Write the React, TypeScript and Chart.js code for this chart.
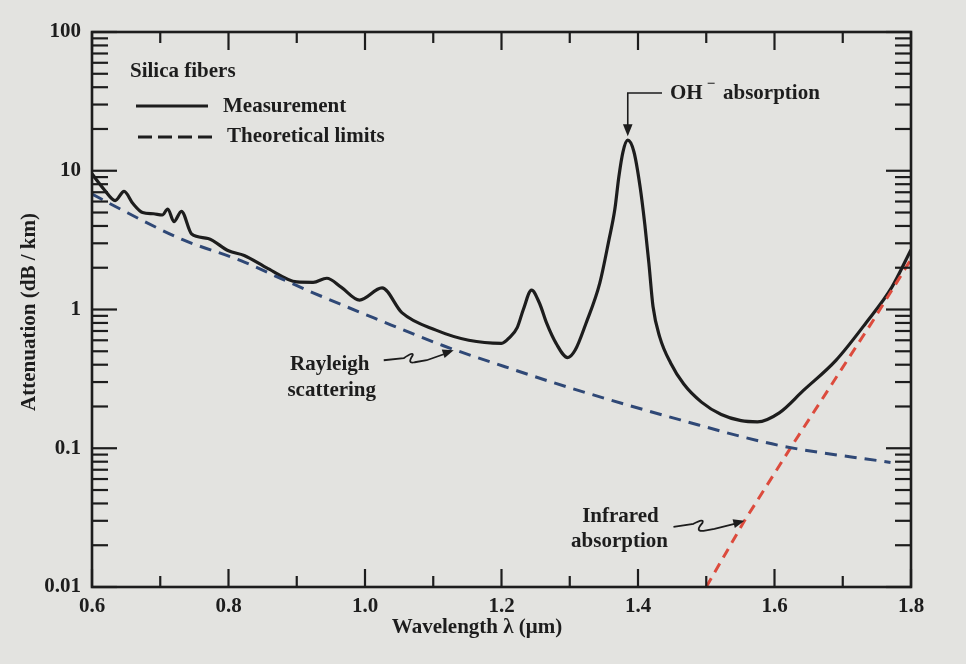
import React, { useEffect, useRef } from "react";
import { Chart, registerables } from "chart.js";

Chart.register(...registerables);

// ---- data ----
const measWavelength = [
  0.6, 0.618, 0.634, 0.647, 0.66, 0.674, 0.69, 0.703, 0.711, 0.72, 0.731, 0.746, 0.77, 0.8, 0.823,
  0.858, 0.9, 0.924, 0.944, 0.965, 0.992, 1.025, 1.054, 1.104, 1.152, 1.2, 1.212, 1.223, 1.232,
  1.244, 1.256, 1.266, 1.28, 1.297, 1.308, 1.324, 1.344, 1.357, 1.366, 1.372, 1.378, 1.385, 1.394,
  1.403, 1.41, 1.416, 1.422, 1.432, 1.448, 1.467, 1.493, 1.522, 1.551, 1.575, 1.607, 1.642, 1.69,
  1.734, 1.772, 1.8,
];
const measAttenuation = [
  9.5, 7.3, 6.1, 7.1, 5.8, 5.0, 4.9, 4.8, 5.3, 4.3, 5.1, 3.5, 3.25, 2.65, 2.45,
  1.97, 1.58, 1.57, 1.68, 1.45, 1.17, 1.43, 0.95, 0.71, 0.6, 0.57, 0.63, 0.74, 1.0,
  1.38, 1.1, 0.8, 0.57, 0.45, 0.51, 0.8, 1.55, 3.1, 5.25, 9.1, 13.7, 16.6, 13.7,
  7.7, 4.1, 2.14, 1.05, 0.63, 0.41, 0.29, 0.215, 0.175, 0.158, 0.155, 0.18, 0.26, 0.43,
  0.8, 1.45, 2.7,
];
const rayleighWavelength = [0.6, 0.635, 0.732, 0.819, 0.877, 0.924, 1.013, 1.114, 1.203, 1.303, 1.462, 1.606, 1.77];
const rayleighAttenuation = [6.8, 5.5, 3.2, 2.24, 1.67, 1.32, 0.87, 0.55, 0.39, 0.27, 0.16, 0.105, 0.079];
const infraredWavelength = [1.5, 1.556, 1.627, 1.745, 1.8];
const infraredAttenuation = [0.01, 0.03, 0.107, 0.84, 2.3];

const rayleighPointerWavelength = 1.13;
const infraredPointerIndex = 1;

const xTickValues = [0.6, 0.8, 1.0, 1.2, 1.4, 1.6, 1.8];
const xMinorTickValues = [0.7, 0.9, 1.1, 1.3, 1.5, 1.7];
const yTickValues = [0.01, 0.1, 1, 10, 100];
const yTickLabels = ["0.01", "0.1", "1", "10", "100"];
const yMinorMultipliers = [2, 3, 4, 5, 6, 7, 8, 9];

const FONT = '"Liberation Serif", "Times New Roman", serif';
const INK = "#1d1d1d";
const BG = "#e3e3e0";
const BLUE = "#2f4876";
const RED = "#dc4b3d";

function logInterp(ws: number[], vs: number[], w: number) {
  for (let i = 0; i < ws.length - 1; i++) {
    if (w >= ws[i] && w <= ws[i + 1]) {
      const t = (w - ws[i]) / (ws[i + 1] - ws[i]);
      return Math.pow(10, Math.log10(vs[i]) * (1 - t) + Math.log10(vs[i + 1]) * t);
    }
  }
  return vs[vs.length - 1];
}

function arrowHead(ctx: CanvasRenderingContext2D, fx: number, fy: number, tx: number, ty: number, size: number) {
  const ang = Math.atan2(ty - fy, tx - fx);
  ctx.beginPath();
  ctx.moveTo(tx, ty);
  ctx.lineTo(tx - size * Math.cos(ang - 0.38), ty - size * Math.sin(ang - 0.38));
  ctx.lineTo(tx - size * Math.cos(ang + 0.38), ty - size * Math.sin(ang + 0.38));
  ctx.closePath();
  ctx.fill();
}

const decorPlugin = {
  id: "decor",
  afterDatasetsDraw(chart: any) {
    const { ctx, chartArea: a, scales } = chart;
    const xs = scales.x;
    const ys = scales.y;
    ctx.save();
    ctx.strokeStyle = INK;
    ctx.fillStyle = INK;
    ctx.setLineDash([]);

    // frame
    ctx.lineWidth = 2.6;
    ctx.strokeRect(a.left, a.top, a.right - a.left, a.bottom - a.top);

    // inward tick marks
    ctx.lineWidth = 2.2;
    const seg = (x1: number, y1: number, x2: number, y2: number) => {
      ctx.beginPath();
      ctx.moveTo(x1, y1);
      ctx.lineTo(x2, y2);
      ctx.stroke();
    };
    const yTick = (v: number, len: number) => {
      const py = ys.getPixelForValue(v);
      seg(a.left, py, a.left + len, py);
      seg(a.right, py, a.right - len, py);
    };
    yTickValues.forEach((dec, i) => {
      yTick(dec, 25);
      if (i < yTickValues.length - 1) yMinorMultipliers.forEach((m) => yTick(dec * m, 16));
    });
    const xTick = (v: number, len: number) => {
      const px = xs.getPixelForValue(v);
      seg(px, a.bottom, px, a.bottom - len);
      seg(px, a.top, px, a.top + len);
    };
    xTickValues.forEach((v) => xTick(v, 18));
    xMinorTickValues.forEach((v) => xTick(v, 11));

    // axis titles
    ctx.font = `bold 21px ${FONT}`;
    ctx.textAlign = "center";
    ctx.textBaseline = "middle";
    ctx.fillText("Wavelength \u03bb (\u03bcm)", 477, 628);
    ctx.save();
    ctx.translate(30, 312);
    ctx.rotate(-Math.PI / 2);
    ctx.fillText("Attenuation (dB / km)", 0, 0);
    ctx.restore();

    // key block
    ctx.textAlign = "left";
    ctx.fillText("Silica fibers", 130, 72);
    ctx.fillText("Measurement", 223, 107);
    ctx.fillText("Theoretical limits", 227, 137);
    ctx.lineWidth = 3;
    seg(136, 106, 208, 106);
    ctx.setLineDash([14, 6]);
    seg(138, 137, 214, 137);
    ctx.setLineDash([]);

    // OH- absorption label with arrow to the peak
    let peakIdx = 0;
    measAttenuation.forEach((v, i) => {
      if (v > measAttenuation[peakIdx]) peakIdx = i;
    });
    const peakX = xs.getPixelForValue(measWavelength[peakIdx]);
    const peakY = ys.getPixelForValue(measAttenuation[peakIdx]);
    ctx.lineWidth = 1.6;
    ctx.beginPath();
    ctx.moveTo(662, 93);
    ctx.lineTo(peakX, 93);
    ctx.lineTo(peakX, peakY - 14);
    ctx.stroke();
    arrowHead(ctx, peakX, 93, peakX, peakY - 4, 13);
    ctx.font = `bold 21px ${FONT}`;
    ctx.fillText("OH", 670, 94);
    const ohW = ctx.measureText("OH").width;
    ctx.font = `bold 15px ${FONT}`;
    ctx.fillText("\u2212", 670 + ohW + 4, 84);
    ctx.font = `bold 21px ${FONT}`;
    ctx.fillText("absorption", 723, 94);

    // Rayleigh scattering label, pointer ends on the Rayleigh curve
    const rx = xs.getPixelForValue(rayleighPointerWavelength);
    const ry = ys.getPixelForValue(logInterp(rayleighWavelength, rayleighAttenuation, rayleighPointerWavelength)) + 1;
    ctx.textAlign = "center";
    ctx.fillText("Rayleigh", rx - 124, ry + 14);
    ctx.fillText("scattering", rx - 122, ry + 40);
    ctx.lineWidth = 1.8;
    ctx.beginPath();
    ctx.moveTo(rx - 70, ry + 10);
    ctx.lineTo(rx - 50, ry + 8);
    ctx.quadraticCurveTo(rx - 40, ry + 1, rx - 41, ry + 5);
    ctx.quadraticCurveTo(rx - 47, ry + 14, rx - 39, ry + 12);
    ctx.lineTo(rx - 27, ry + 10);
    ctx.lineTo(rx - 10, ry + 4);
    ctx.stroke();
    arrowHead(ctx, rx - 18, ry + 6, rx, ry, 12);

    // Infrared absorption label, pointer ends on the infrared line
    const ix = xs.getPixelForValue(infraredWavelength[infraredPointerIndex]);
    const iy = ys.getPixelForValue(infraredAttenuation[infraredPointerIndex]);
    ctx.fillText("Infrared", ix - 124, iy - 4);
    ctx.fillText("absorption", ix - 125, iy + 21);
    ctx.beginPath();
    ctx.moveTo(ix - 71, iy + 6);
    ctx.lineTo(ix - 51, iy + 3);
    ctx.quadraticCurveTo(ix - 40, iy - 3, ix - 42, iy + 2);
    ctx.quadraticCurveTo(ix - 50, iy + 11, ix - 41, iy + 10);
    ctx.lineTo(ix - 30, iy + 8);
    ctx.lineTo(ix - 10, iy + 3);
    ctx.stroke();
    arrowHead(ctx, ix - 19, iy + 5, ix, iy, 12);

    ctx.restore();
  },
};

export default function App() {
  const canvasRef = useRef<HTMLCanvasElement | null>(null);

  useEffect(() => {
    const canvas = canvasRef.current;
    if (!canvas) return;
    const toPts = (xsArr: number[], ysArr: number[]) => xsArr.map((x, i) => ({ x, y: ysArr[i] }));
    const chart = new Chart(canvas, {
      type: "line",
      data: {
        datasets: [
          {
            label: "Rayleigh scattering",
            data: toPts(rayleighWavelength, rayleighAttenuation),
            borderColor: BLUE,
            borderWidth: 3,
            borderDash: [12, 8],
            pointRadius: 0,
            cubicInterpolationMode: "monotone",
            fill: false,
          },
          {
            label: "Infrared absorption",
            data: toPts(infraredWavelength, infraredAttenuation),
            borderColor: RED,
            borderWidth: 3,
            borderDash: [10, 7],
            pointRadius: 0,
            tension: 0,
            fill: false,
          },
          {
            label: "Measurement",
            data: toPts(measWavelength, measAttenuation),
            borderColor: INK,
            borderWidth: 3.2,
            pointRadius: 0,
            cubicInterpolationMode: "monotone",
            fill: false,
          },
        ],
      },
      options: {
        responsive: false,
        animation: false,
        devicePixelRatio: 1,
        layout: { padding: { top: 32, right: 55, left: 0, bottom: 0 } },
        plugins: { legend: { display: false }, tooltip: { enabled: false } },
        scales: {
          x: {
            type: "linear",
            min: 0.6,
            max: 1.8,
            afterBuildTicks: (s: any) => {
              s.ticks = xTickValues.map((v) => ({ value: v }));
            },
            afterFit: (s: any) => {
              s.height = 77;
            },
            grid: { display: false, drawTicks: false },
            border: { display: false },
            ticks: {
              autoSkip: false,
              maxRotation: 0,
              padding: 7,
              color: INK,
              font: { family: FONT, size: 21, weight: "bold" },
              callback: (v: any) => Number(v).toFixed(1),
            },
          },
          y: {
            type: "logarithmic",
            min: 0.01,
            max: 100,
            afterBuildTicks: (s: any) => {
              s.ticks = yTickValues.map((v) => ({ value: v }));
            },
            afterFit: (s: any) => {
              s.width = 92;
            },
            grid: { display: false, drawTicks: false },
            border: { display: false },
            ticks: {
              autoSkip: false,
              padding: 11,
              color: INK,
              font: { family: FONT, size: 21, weight: "bold" },
              callback: (_v: any, i: number) => yTickLabels[i],
            },
          },
        },
      },
      plugins: [decorPlugin],
    } as any);
    return () => chart.destroy();
  }, []);

  return (
    <div style={{ position: "absolute", left: 0, top: 0, width: 966, height: 664, background: BG, overflow: "hidden" }}>
      <canvas ref={canvasRef} width={966} height={664} style={{ display: "block" }} />
    </div>
  );
}
